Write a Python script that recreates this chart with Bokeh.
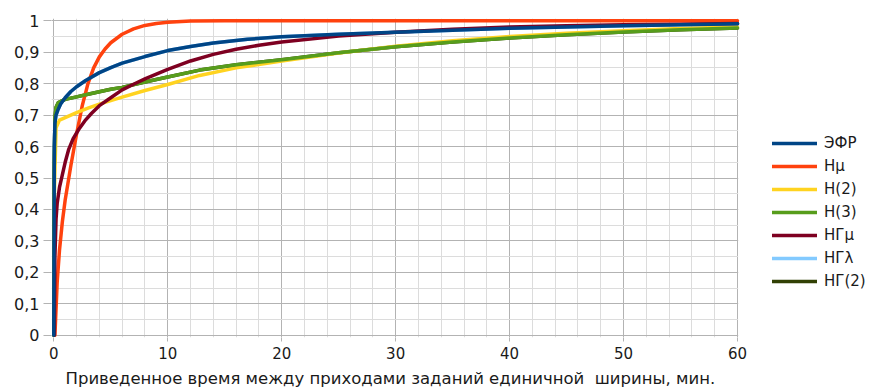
from bokeh.plotting import figure
from bokeh.models import Range1d, FixedTicker, Legend, LegendItem, BoxAnnotation, Title
from bokeh.embed import file_html
from bokeh.resources import INLINE

# ---- data ----
series_names = ["ЭФР", "Hμ", "H(2)", "H(3)", "НГμ", "НГλ", "НГ(2)"]
series_colors = ["#004586", "#ff420e", "#ffd320", "#579d1c", "#7e0021", "#83caff", "#314004"]

efr_x = [0, 0.02, 0.05, 0.1, 0.2, 0.35, 0.6, 1.0, 1.5, 2.0, 2.8, 4, 5, 6, 8, 10, 12, 14, 17, 20, 25, 30, 35, 40, 45, 50, 55, 60]
efr_y = [0, 0.3, 0.6, 0.675, 0.7, 0.715, 0.735, 0.755, 0.775, 0.79, 0.81, 0.835, 0.851, 0.865, 0.886, 0.905, 0.918, 0.929, 0.941, 0.949, 0.957, 0.963, 0.97, 0.976, 0.98, 0.984, 0.987, 0.99]

hmu_x = [0.1, 0.3, 0.5, 0.75, 1.0, 1.5, 2.0, 2.5, 3.0, 3.5, 4.0, 4.5, 5, 6, 7, 8, 9, 10, 12, 15, 20, 30, 40, 50, 60]
hmu_y = [0, 0.17, 0.27, 0.36, 0.43, 0.54, 0.64, 0.73, 0.80, 0.85, 0.885, 0.91, 0.93, 0.957, 0.974, 0.985, 0.991, 0.995, 0.999, 1.0, 1.0, 1.0, 1.0, 1.0, 1.0]

h2_x = [0, 0.05, 0.2, 0.5, 1.0, 2.0, 3.0, 4.0, 5.0, 6.0, 8.0, 10, 12.8, 16, 20, 25, 30, 35, 40, 45, 50, 55, 60]
h2_y = [0, 0.45, 0.66, 0.684, 0.692, 0.708, 0.722, 0.735, 0.746, 0.757, 0.778, 0.797, 0.826, 0.85, 0.872, 0.897, 0.919, 0.936, 0.95, 0.96, 0.968, 0.975, 0.98]

h3_x = [0, 0.03, 0.1, 0.2, 0.4, 1.0, 2.0, 3.0, 4.0, 5.0, 6.0, 8.0, 10, 12.8, 16, 20, 25, 30, 35, 40, 45, 50, 55, 60]
h3_y = [0, 0.5, 0.69, 0.725, 0.74, 0.75, 0.758, 0.766, 0.774, 0.782, 0.788, 0.805, 0.821, 0.843, 0.86, 0.876, 0.898, 0.917, 0.932, 0.945, 0.955, 0.964, 0.971, 0.977]

ngmu_x = [0.05, 0.1, 0.2, 0.3, 0.5, 0.75, 1.0, 1.3, 1.7, 2.2, 2.8, 3.3, 4.0, 5.0, 6.0, 7.0, 8.0, 9.0, 10, 12, 14, 16, 18, 20, 25, 30, 35, 40, 45, 50, 55, 60]
ngmu_y = [0, 0.25, 0.37, 0.42, 0.47, 0.51, 0.55, 0.59, 0.625, 0.655, 0.685, 0.705, 0.73, 0.755, 0.78, 0.798, 0.815, 0.83, 0.845, 0.872, 0.893, 0.909, 0.922, 0.932, 0.951, 0.963, 0.973, 0.98, 0.984, 0.987, 0.989, 0.991]

# НГλ and НГ(2) are hidden under ЭФР and H(3) in the picture
ngl_x = list(efr_x)
ngl_y = list(efr_y)
ng2_x = list(h3_x)
ng2_y = list(h3_y)

x_ticks = [0, 10, 20, 30, 40, 50, 60]
x_minor = [2, 4, 6, 8, 12, 14, 16, 18, 22, 24, 26, 28, 32, 34, 36, 38, 42, 44, 46, 48, 52, 54, 56, 58]
y_ticks = [0.0, 0.1, 0.2, 0.3, 0.4, 0.5, 0.6, 0.7, 0.8, 0.9, 1.0]
y_tick_labels = ["0", "0,1", "0,2", "0,3", "0,4", "0,5", "0,6", "0,7", "0,8", "0,9", "1"]
y_minor = [0.05, 0.15, 0.25, 0.35, 0.45, 0.55, 0.65, 0.75, 0.85, 0.95]
x_title = "Приведенное время между приходами заданий единичной\u00a0 ширины, мин."

FONT = "DejaVu Sans"
MAJOR = "#b3b3b3"
MINOR = "#dcdcdc"

X_END = 60
PX_PER_X = 686 / 60.2
x_extra = (871 - 51) / PX_PER_X - 0.2   # frame reaches the right edge; legend lives there

p = figure(width=871, height=392, output_backend="svg", toolbar_location=None,
           x_range=Range1d(-0.2, x_extra), y_range=Range1d(-0.007, 1.007),
           min_border_left=51, min_border_right=0, min_border_top=18, min_border_bottom=55)
p.outline_line_color = None
p.background_fill_color = "white"

p.xaxis.ticker = FixedTicker(ticks=x_ticks, minor_ticks=x_minor)
p.yaxis.ticker = FixedTicker(ticks=y_ticks, minor_ticks=y_minor)
p.yaxis.major_label_overrides = dict(zip(y_ticks, y_tick_labels))

for ax in (p.xaxis[0], p.yaxis[0]):
    ax.axis_line_color = None
    ax.major_tick_line_color = MAJOR
    ax.major_tick_in = 0
    ax.minor_tick_line_color = None
    ax.major_label_text_font = FONT
    ax.major_label_text_color = "#1a1a1a"
p.xaxis.major_label_text_font_size = "15px"
p.yaxis.major_label_text_font_size = "16px"
p.xaxis.major_tick_out = 4
p.xaxis.major_label_standoff = 5
p.yaxis.major_tick_out = 8
p.yaxis.major_label_standoff = 4

# x-axis title, left-aligned so that it is centred under the 0..60 part of the frame
p.add_layout(Title(text=x_title, align="left", offset=14, standoff=10,
                   text_font=FONT, text_font_size="16.5px", text_font_style="normal",
                   text_color="#1a1a1a"), "below")

for g in (p.xgrid[0], p.ygrid[0]):
    g.grid_line_color = MAJOR
    g.grid_line_width = 1
    g.minor_grid_line_color = MINOR
    g.minor_grid_line_width = 1

# blank out the grid to the right of x = 60 (legend area)
p.add_layout(BoxAnnotation(left=X_END + 0.06, fill_color="white", fill_alpha=1,
                           line_color=None, level="underlay"))

data = {
    "НГλ": (ngl_x, ngl_y),
    "НГ(2)": (ng2_x, ng2_y),
    "Hμ": (hmu_x, hmu_y),
    "H(2)": (h2_x, h2_y),
    "H(3)": (h3_x, h3_y),
    "НГμ": (ngmu_x, ngmu_y),
    "ЭФР": (efr_x, efr_y),
}
renderers = {}
for name, (xs, ys) in data.items():
    col = series_colors[series_names.index(name)]
    renderers[name] = p.line(xs, ys, line_color=col, line_width=3.5, line_join="round", line_cap="round")

items = [LegendItem(label=n, renderers=[renderers[n]]) for n in series_names]
legend = Legend(items=items, location=(721, 46), orientation="vertical",
                glyph_width=45, glyph_height=20, label_height=20, spacing=3,
                label_standoff=7, padding=0, margin=0,
                border_line_color=None, background_fill_alpha=0,
                label_text_font=FONT, label_text_font_size="15px", label_text_color="#1a1a1a")
p.add_layout(legend, "center")

open("out.html", "w").write(file_html(p, INLINE))
